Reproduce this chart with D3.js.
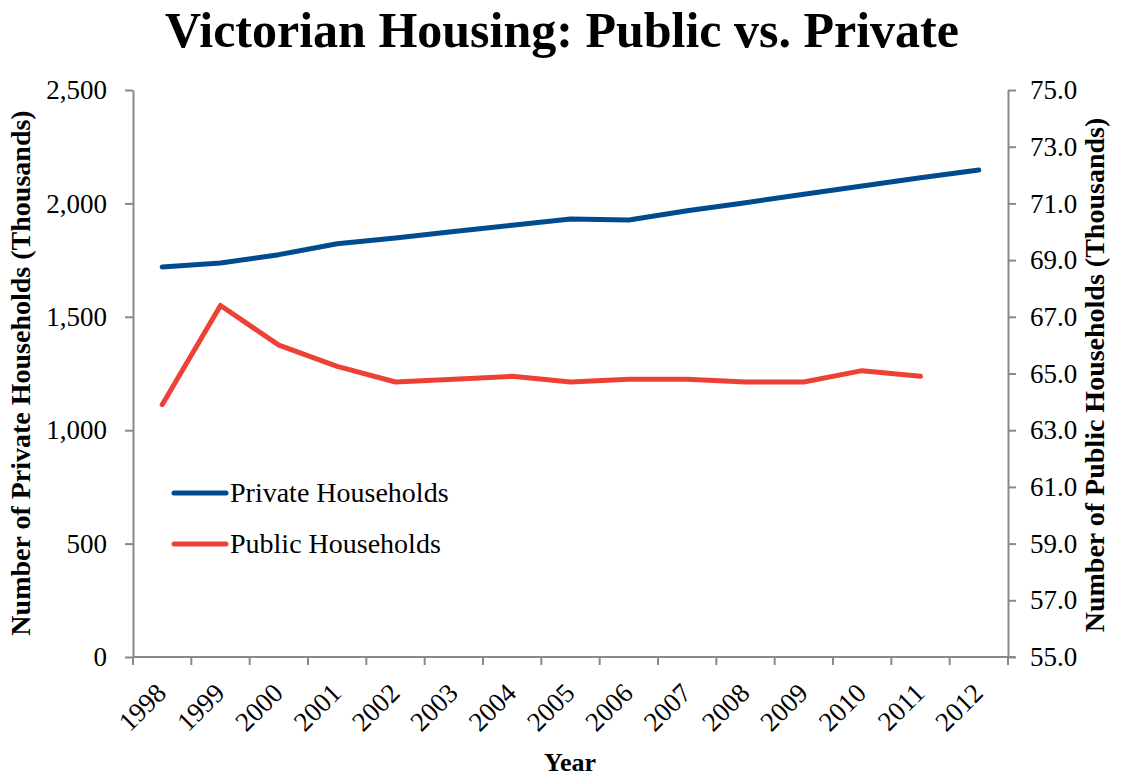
<!DOCTYPE html>
<html>
<head>
<meta charset="utf-8">
<script src="https://cdn.jsdelivr.net/npm/d3@7"></script>
<style>
  body { margin: 0; background: #fff; }
  text { font-family: "Liberation Serif", "DejaVu Serif", serif; fill: #000; }
  .axis path, .axis line { stroke: #898989; stroke-width: 2; }
  .axis text { font-size: 27px; }
</style>
</head>
<body>
<script>
// chart values
var years = ["1998","1999","2000","2001","2002","2003","2004","2005","2006","2007","2008","2009","2010","2011","2012"];
var privateHH = [1720, 1737, 1774, 1822, 1847, 1876, 1904, 1931, 1927, 1968, 2003, 2040, 2077, 2113, 2147];
var publicHH = [63.9, 67.4, 66.0, 65.25, 64.7, 64.8, 64.9, 64.7, 64.8, 64.8, 64.7, 64.7, 65.1, 64.9, null];
var leftTicks = [0, 500, 1000, 1500, 2000, 2500];
var rightTicks = [55, 57, 59, 61, 63, 65, 67, 69, 71, 73, 75];

var W = 1122, H = 776;
var mLeft = 133, mRight = 1008, mTop = 90, mBottom = 657;

var svg = d3.select("body").append("svg")
  .attr("width", W)
  .attr("height", H);

var x = d3.scaleBand().domain(years).range([mLeft, mRight]);
var yL = d3.scaleLinear().domain([0, 2500]).range([mBottom, mTop]);
var yR = d3.scaleLinear().domain([55, 75]).range([mBottom, mTop]);

// x axis: ticks sit on the band edges
var xAxis = svg.append("g").attr("class", "axis")
  .attr("transform", "translate(0," + mBottom + ")");
xAxis.append("line").attr("x1", mLeft).attr("x2", mRight + 7).attr("y1", 0).attr("y2", 0);
var edges = years.map(function(d) { return x(d); }).concat([mRight]);
xAxis.selectAll("line.tk").data(edges).enter().append("line")
  .attr("class", "tk")
  .attr("x1", function(d) { return d; }).attr("x2", function(d) { return d; })
  .attr("y1", 0).attr("y2", 8);
xAxis.selectAll("text").data(years).enter().append("text")
  .attr("transform", function(d) {
    return "translate(" + (x(d) + x.bandwidth() / 2 - 1) + ",31) rotate(-45)";
  })
  .attr("text-anchor", "end")
  .attr("dy", "0.35em")
  .text(function(d) { return d; });

// left axis
svg.append("g").attr("class", "axis")
  .attr("transform", "translate(" + mLeft + ",0)")
  .call(d3.axisLeft(yL).tickValues(leftTicks).tickSize(8).tickPadding(18)
    .tickSizeOuter(0).tickFormat(d3.format(",")));

// right axis
svg.append("g").attr("class", "axis")
  .attr("transform", "translate(" + mRight + ",0)")
  .call(d3.axisRight(yR).tickValues(rightTicks).tickSize(8).tickPadding(14)
    .tickSizeOuter(0).tickFormat(d3.format(".1f")));

svg.selectAll(".axis .domain").attr("stroke", "#898989").attr("stroke-width", 2);

// lines
var cx = function(d, i) { return x(years[i]) + x.bandwidth() / 2; };

var linePriv = d3.line().x(cx).y(function(d) { return yL(d); });
var linePub = d3.line().defined(function(d) { return d != null; }).x(cx).y(function(d) { return yR(d); });

svg.append("path")
  .attr("d", linePriv(privateHH))
  .attr("fill", "none")
  .attr("stroke", "#004b8d")
  .attr("stroke-width", 5)
  .attr("stroke-linecap", "round")
  .attr("stroke-linejoin", "round");

svg.append("path")
  .attr("d", linePub(publicHH))
  .attr("fill", "none")
  .attr("stroke", "#ee4136")
  .attr("stroke-width", 5)
  .attr("stroke-linecap", "round")
  .attr("stroke-linejoin", "round");

// legend
var legend = [
  { name: "Private Households", color: "#004b8d", y: 493 },
  { name: "Public Households", color: "#ee4136", y: 544 }
];
legend.forEach(function(d) {
  svg.append("line")
    .attr("x1", 174).attr("x2", 226)
    .attr("y1", d.y).attr("y2", d.y)
    .attr("stroke", d.color)
    .attr("stroke-width", 5)
    .attr("stroke-linecap", "round");
  svg.append("text")
    .attr("x", 230).attr("y", d.y + 9)
    .style("font-size", "28px")
    .text(d.name);
});

// title and axis labels
svg.append("text")
  .attr("x", 562).attr("y", 47)
  .attr("text-anchor", "middle")
  .style("font-size", "50px").style("font-weight", "bold")
  .text("Victorian Housing: Public vs. Private");

svg.append("text")
  .attr("transform", "translate(30,373) rotate(-90)")
  .attr("text-anchor", "middle")
  .style("font-size", "28px").style("font-weight", "bold")
  .text("Number of Private Households (Thousands)");

svg.append("text")
  .attr("transform", "translate(1104,375) rotate(-90)")
  .attr("text-anchor", "middle")
  .style("font-size", "28px").style("font-weight", "bold")
  .text("Number of Public Households (Thousands)");

svg.append("text")
  .attr("x", 570).attr("y", 771)
  .attr("text-anchor", "middle")
  .style("font-size", "26px").style("font-weight", "bold")
  .text("Year");
</script>
</body>
</html>
